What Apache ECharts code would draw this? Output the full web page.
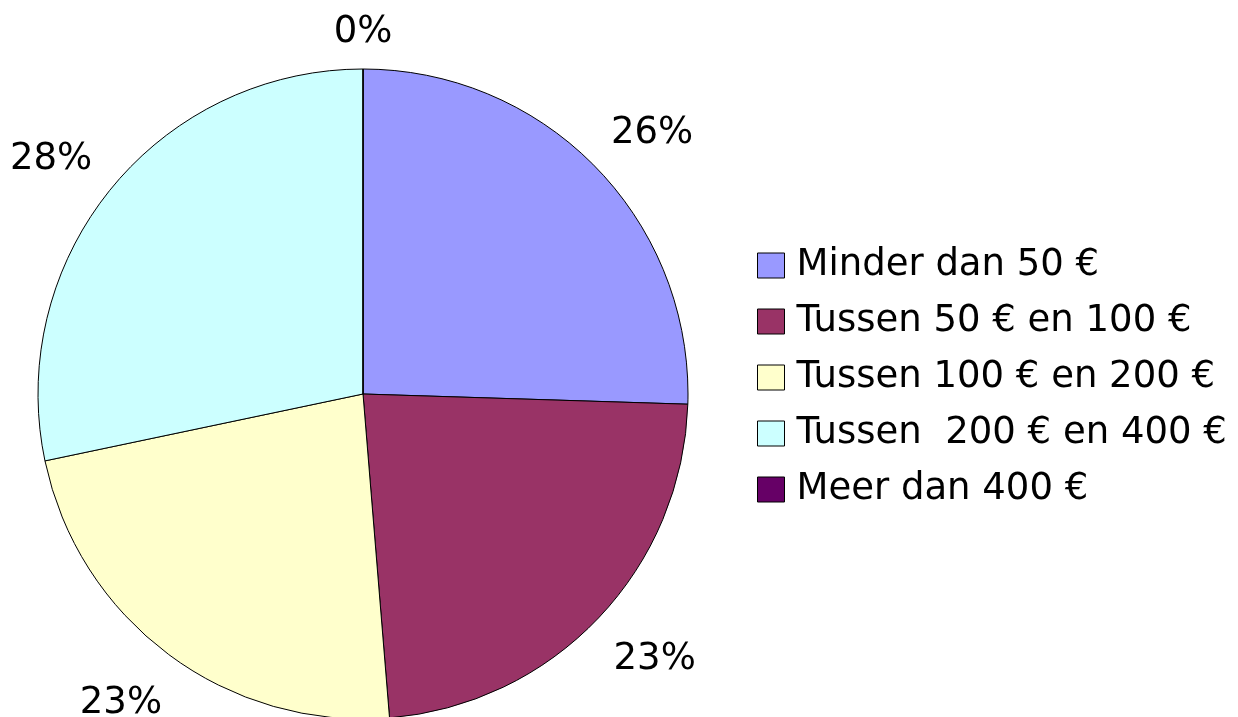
<!DOCTYPE html>
<html>
<head>
<meta charset="utf-8">
<script src="https://cdn.jsdelivr.net/npm/echarts@6/dist/echarts.min.js"></script>
<style>
  html, body { margin: 0; padding: 0; background: #fff; }
  #main { width: 1238px; height: 717px; }
</style>
</head>
<body>
<div id="main"></div>
<script>
// categories and shares
var categories = ['Minder dan 50 €', 'Tussen 50 € en 100 €', 'Tussen 100 € en 200 €', 'Tussen  200 € en 400 €', 'Meer dan 400 €'];
var shares = [25.5, 23.2, 23.0, 28.3, 0];
var colors = ['#9999ff', '#993366', '#ffffcc', '#ccffff', '#660066'];

var font = 'DejaVu Sans';
var chart = echarts.init(document.getElementById('main'));

var pieData = categories.map(function (name, i) {
  return { name: name, value: shares[i], itemStyle: { color: colors[i] } };
});

// invisible ring just outside the pie, only used to hold the % labels
var total = shares.reduce(function (a, b) { return a + b; }, 0);
var acc = 0;
var labelData = categories.map(function (name, i) {
  var mid = (acc + shares[i] / 2) / total * Math.PI * 2;
  acc += shares[i];
  var item = { name: name, value: shares[i] };
  if (shares[i] === 0) {
    // the empty slice sits at the very top, push its label down a bit
    item.label = { offset: [0, 30] };
  } else {
    // nudge labels a little towards the horizontal, like the original
    var sx = Math.sin(mid) > 0 ? 1 : -1;
    var upper = Math.cos(mid) > 0;
    item.label = { offset: [8 * sx, upper ? 12 : -4] };
  }
  return item;
});

var option = {
  animation: false,
  legend: {
    orient: 'vertical',
    left: 757,
    top: 247,
    padding: 0,
    itemWidth: 27,
    itemHeight: 25,
    itemGap: 19,
    icon: 'rect',
    itemStyle: { borderColor: '#000', borderWidth: 1 },
    textStyle: {
      fontFamily: font,
      fontSize: 37,
      lineHeight: 36,
      color: '#000',
      padding: [0, 0, 0, 7]
    },
    data: categories
  },
  series: [
    {
      type: 'pie',
      center: [363, 394],
      radius: 325,
      startAngle: 90,
      clockwise: true,
      data: pieData,
      label: { show: false },
      labelLine: { show: false },
      itemStyle: { borderColor: '#000', borderWidth: 1 },
      emphasis: { disabled: true }
    },
    {
      type: 'pie',
      center: [363, 394],
      radius: [325, 452],
      startAngle: 90,
      clockwise: true,
      silent: true,
      percentPrecision: 0,
      data: labelData,
      itemStyle: { color: 'rgba(0,0,0,0)', borderWidth: 0 },
      label: {
        show: true,
        position: 'inside',
        formatter: '{d}%',
        fontFamily: font,
        fontSize: 37,
        color: '#000'
      },
      labelLine: { show: false },
      emphasis: { disabled: true }
    }
  ]
};

chart.setOption(option);
</script>
</body>
</html>
